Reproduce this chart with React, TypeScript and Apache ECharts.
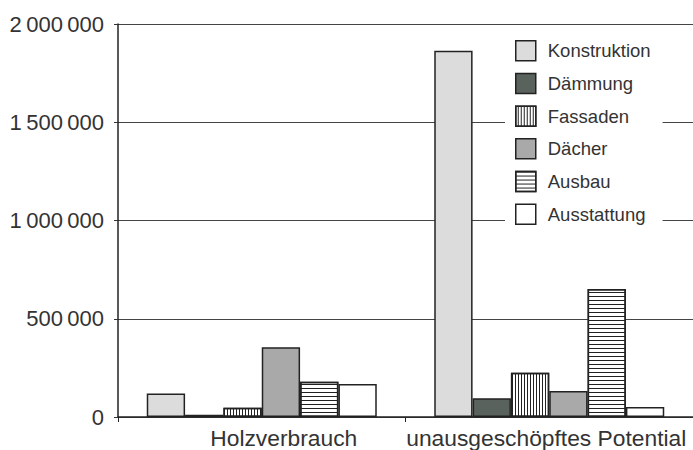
import React, { useEffect, useRef } from "react";
import * as echarts from "echarts";

const categories = ["Holzverbrauch", "unausgeschöpftes Potential"];
const seriesNames = ["Konstruktion", "Dämmung", "Fassaden", "Dächer", "Ausbau", "Ausstattung"];
const konstruktion = [120000, 1864000];
const daemmung = [12000, 95000];
const fassaden = [47000, 225000];
const daecher = [355000, 132000];
const ausbau = [180000, 651000];
const ausstattung = [168000, 51000];
const yTickValues = [0, 500000, 1000000, 1500000, 2000000];
const yTickLabels = ["0", "500\u2009000", "1\u2009000\u2009000", "1\u2009500\u2009000", "2\u2009000\u2009000"];

const seriesValues = [konstruktion, daemmung, fassaden, daecher, ausbau, ausstattung];
const fills = ["#dcdcdc", "#59625d", "#ffffff", "#a9a9a9", "#ffffff", "#ffffff"];
const decals: any[] = [
  null,
  null,
  { symbol: "rect", symbolSize: 1, color: "#222", dashArrayX: [1, 0], dashArrayY: [1, 2], rotation: Math.PI / 2 },
  null,
  { symbol: "rect", symbolSize: 1, color: "#222", dashArrayX: [1, 0], dashArrayY: [1, 3], rotation: 0 },
  null,
];

export default function App() {
  const ref = useRef<HTMLDivElement>(null);
  useEffect(() => {
    if (!ref.current) return;
    const chart = echarts.init(ref.current, undefined, { renderer: "svg" });
    const textColor = "#333";
    const catFont = { fontFamily: "Liberation Sans", fontSize: 22.8, color: textColor };
    chart.setOption({
      animation: false,
      backgroundColor: "#ffffff",
      grid: { left: 118, right: -3, top: 24, bottom: 33 },
      legend: {
        orient: "vertical",
        left: 505,
        top: 34,
        backgroundColor: "#ffffff",
        padding: [6, 12, 6, 10],
        itemWidth: 20,
        itemHeight: 20,
        itemGap: 11.2,
        icon: "rect",
        itemStyle: { borderColor: "#222", borderWidth: 1.5 },
        textStyle: { fontFamily: "Liberation Sans", fontSize: 18.5, color: textColor, padding: [0, 0, 0, 7] },
        data: seriesNames,
      },
      xAxis: {
        type: "category",
        data: categories,
        axisLine: { lineStyle: { color: "#222", width: 1.5 } },
        axisTick: { show: true, length: 5, lineStyle: { color: "#222" } },
        axisLabel: {
          interval: 0,
          hideOverlap: false,
          ...catFont,
          margin: 9,
          formatter: (v: string, idx: number) => (idx === 0 ? `{a|${v}}` : `{b|${v}}`),
          rich: {
            a: { ...catFont, padding: [0, 0, 0, 44] },
            b: { ...catFont, padding: [0, 0, 0, -6] },
          },
        },
      },
      yAxis: {
        type: "value",
        min: 0,
        max: 2000000,
        interval: 500000,
        axisLine: { show: true, lineStyle: { color: "#222", width: 1.5 } },
        axisTick: { show: true, length: 4, lineStyle: { color: "#333" } },
        splitLine: { show: true, lineStyle: { color: "#444", width: 1 } },
        axisLabel: {
          fontFamily: "Liberation Sans",
          fontSize: 22,
          color: textColor,
          margin: 14,
          formatter: (v: number) => {
            const i = yTickValues.indexOf(v);
            return i >= 0 ? yTickLabels[i] : "";
          },
        },
      },
      series: seriesNames.map((name, i) => ({
        name,
        type: "bar",
        data: seriesValues[i],
        barGap: "0%",
        barCategoryGap: "20%",
        itemStyle: {
          color: fills[i],
          borderColor: "#222",
          borderWidth: 1.5,
          ...(decals[i] ? { decal: decals[i] } : {}),
        },
      })),
    });
    return () => chart.dispose();
  }, []);
  return <div ref={ref} style={{ width: 693, height: 450, position: "absolute", left: 0, top: 0 }} />;
}
